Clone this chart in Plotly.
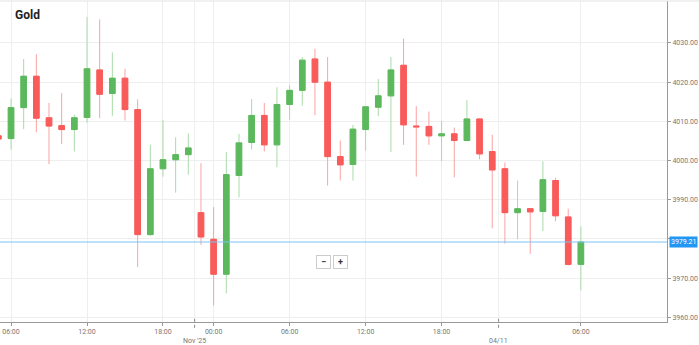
import plotly.graph_objects as go

# ---- data (hourly candles, index 0 = first visible 06:00 candle) ----
idx = list(range(-1, 46))
opens = [4006.3, 4005.6, 4013.5, 4021.5, 4010.9, 4008.9, 4007.9, 4011.0, 4023.1, 4017.1, 4021.0,
         4013.0, 3981.1, 3997.9, 4000.2, 4001.5, 3986.7, 3979.9, 3971.0, 3996.2, 4004.6,
         4011.5, 4004.0, 4014.3, 4017.9, 4025.9, 4020.0, 4001.0, 3999.0, 4007.9, 4013.6,
         4016.5, 4024.3, 4008.8, 4008.7, 4006.3, 4006.8, 4005.1, 4010.6, 4002.3, 3997.9,
         3986.7, 3987.7, 3987.0, 3994.9, 3985.6, 3973.5]
highs = [4006.3, 4015.8, 4025.9, 4027.1, 4014.7, 4017.2, 4011.7, 4036.6, 4036.0, 4027.6, 4023.4,
         4015.6, 4004.0, 4010.4, 4005.9, 4006.9, 3999.3, 3988.1, 4002.2, 4006.8, 4015.7,
         4014.7, 4018.7, 4019.3, 4026.4, 4028.5, 4026.4, 4005.1, 4009.1, 4013.7, 4020.8,
         4026.4, 4031.1, 4013.9, 4012.5, 4010.1, 4008.4, 4015.4, 4010.6, 4006.6, 3999.5,
         3994.9, 3987.7, 3999.8, 3995.6, 3987.7, 3983.2]
lows = [4005.5, 4002.8, 4008.0, 4007.2, 3999.1, 4004.2, 4002.3, 4009.6, 4010.8, 4011.4, 4010.2,
        3972.8, 3980.8, 3995.9, 3991.8, 3996.4, 3978.5, 3963.0, 3966.1, 3990.6, 4002.8,
        4002.3, 3998.3, 4010.4, 4014.0, 4011.6, 3993.6, 3994.9, 3994.9, 4002.5, 4011.3,
        4002.2, 4004.0, 3995.9, 4004.0, 3999.8, 3995.7, 4005.1, 4000.3, 3982.7, 3978.8,
        3979.9, 3976.2, 3982.0, 3984.5, 3973.2, 3966.9]
closes = [4005.5, 4013.5, 4021.5, 4010.8, 4008.8, 4007.9, 4010.9, 4023.4, 4016.9, 4021.0, 4013.0,
          3981.1, 3997.9, 4000.2, 4001.5, 4003.2, 3980.5, 3971.0, 3996.4, 4004.5, 4011.5,
          4004.0, 4014.3, 4017.9, 4025.6, 4020.0, 4001.0, 3998.9, 4008.0, 4013.7, 4016.5,
          4023.1, 4009.1, 4008.6, 4006.3, 4006.8, 4005.1, 4010.6, 4001.7, 3997.6, 3986.7,
          3987.7, 3986.9, 3995.1, 3985.9, 3973.5, 3979.21]

tick_idx = [0, 6, 12, 16, 22, 28, 34, 45]
tick_text = ["06:00", "12:00", "18:00", "00:00", "06:00", "12:00", "18:00", "06:00"]
sep_idx = [14.5, 38.5]
sep_text = ["Nov '25", "04/11"]
y_ticks = [3960, 3970, 3980, 3990, 4000, 4010, 4020, 4030]
y_text = ["3960.00", "3970.00", "", "3990.00", "4000.00", "4010.00", "4020.00", "4030.00"]
last_price = 3979.21
title = "Gold"

GREEN = "#5cb85c"
RED = "#f95a5a"
GREEN_W = "#a9dba9"
RED_W = "#f9a3a3"

body_hi = [max(o, c) for o, c in zip(opens, closes)]
body_lo = [min(o, c) for o, c in zip(opens, closes)]

fig = go.Figure()
# wicks (lighter)
fig.add_trace(go.Candlestick(
    x=idx, open=opens, high=highs, low=lows, close=closes,
    increasing=dict(line=dict(color=GREEN_W, width=1), fillcolor=GREEN_W),
    decreasing=dict(line=dict(color=RED_W, width=1), fillcolor=RED_W),
    whiskerwidth=0, showlegend=False, hoverinfo="skip"))
# bodies (solid)
fig.add_trace(go.Candlestick(
    x=idx, open=opens, high=body_hi, low=body_lo, close=closes,
    increasing=dict(line=dict(color=GREEN, width=1), fillcolor=GREEN),
    decreasing=dict(line=dict(color=RED, width=1), fillcolor=RED),
    whiskerwidth=0, showlegend=False))

shapes = []
for s in sep_idx:
    shapes.append(dict(type="line", xref="x", yref="paper", x0=s, x1=s, y0=0, y1=1,
                       line=dict(color="#eeeeee", width=1), layer="below"))
    shapes.append(dict(type="line", xref="x", yref="paper", x0=s, x1=s, y0=0.01, y1=-0.02,
                       line=dict(color="#888888", width=1, dash="dot")))
shapes.append(dict(type="line", xref="paper", yref="y", x0=0, x1=1, y0=last_price, y1=last_price,
                   line=dict(color="#7cc4f2", width=1)))
shapes.append(dict(type="line", xref="paper", yref="paper", x0=0, x1=1.05, y0=1, y1=1,
                   line=dict(color="#e3e3e3", width=1)))

annotations = [
    dict(text="<b>" + title + "</b>", xref="paper", yref="paper", x=0.019, y=0.955,
         xanchor="left", yanchor="middle", showarrow=False,
         font=dict(family="Roboto", size=12, color="#222222")),
    dict(text=f"{last_price:.2f}", xref="paper", yref="y", x=1.003, y=last_price,
         xanchor="left", yanchor="middle", showarrow=False, bgcolor="#2196f3",
         borderpad=1, font=dict(family="Roboto", size=7, color="white")),
    dict(text="<b>−</b>", xref="paper", yref="paper", x=0.485, y=0.165, showarrow=False,
         bgcolor="white", bordercolor="#cccccc", borderwidth=1, borderpad=1, width=11, height=10,
         font=dict(family="Roboto", size=9, color="#333")),
    dict(text="<b>+</b>", xref="paper", yref="paper", x=0.51, y=0.165, showarrow=False,
         bgcolor="white", bordercolor="#cccccc", borderwidth=1, borderpad=1, width=11, height=10,
         font=dict(family="Roboto", size=9, color="#333")),
]
for s, t in zip(sep_idx, sep_text):
    annotations.append(dict(text=t, xref="x", yref="paper", x=s, y=-0.059, showarrow=False,
                            xanchor="center", yanchor="middle",
                            font=dict(family="Roboto", size=7, color="#777777")))

fig.update_layout(
    width=699, height=345,
    margin=dict(l=0, r=32, t=1, b=23),
    paper_bgcolor="white", plot_bgcolor="white",
    boxgap=0.37,
    shapes=shapes, annotations=annotations,
    xaxis=dict(range=[-0.87, 51.8], tickmode="array", tickvals=tick_idx, ticktext=tick_text,
               showgrid=True, gridcolor="#eeeeee", gridwidth=1, zeroline=False,
               showline=True, linecolor="#999999", linewidth=1,
               ticks="outside", ticklen=3, tickcolor="#999999",
               tickfont=dict(family="Roboto", size=7, color="#777777"),
               rangeslider=dict(visible=False), fixedrange=True),
    yaxis=dict(side="right", range=[3958.8, 4040.7], tickmode="array",
               tickvals=y_ticks, ticktext=y_text,
               showgrid=True, gridcolor="#eeeeee", gridwidth=1, zeroline=False,
               showline=True, linecolor="#999999", linewidth=1,
               ticks="outside", ticklen=3, tickcolor="#999999",
               tickfont=dict(family="Roboto", size=7, color="#777777"), fixedrange=True),
    hovermode=False,
)

fig.write_html("out.html", config={"displayModeBar": False})
